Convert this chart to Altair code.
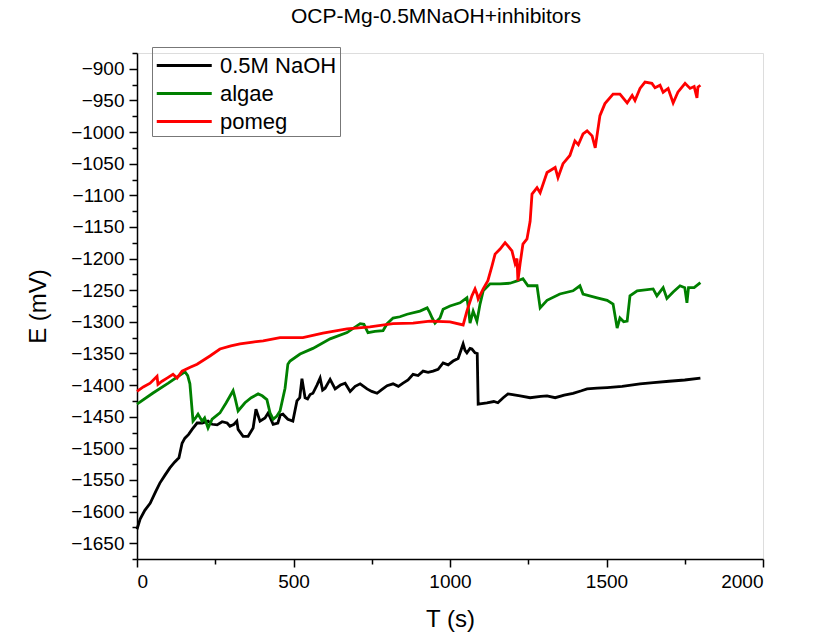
import altair as alt
import pandas as pd

# ---- data ----
naoh_t = [0,10,25,42,60,73,90,105,120,134,144,153,165,176,192,208,227,240,256,272,288,297,310,319,323,339,355,371,380,393,409,419,435,450,458,466,482,498,511,520,527,537,545,553,562,575,585,593,601,617,633,650,665,681,697,713,735,750,767,783,799,818,835,850,866,882,898,914,930,946,962,978,994,1010,1026,1042,1048,1054,1064,1070,1080,1087,1090,1118,1140,1153,1170,1185,1200,1224,1256,1290,1310,1336,1365,1393,1420,1438,1470,1502,1550,1607,1650,1700,1750,1800]
naoh_e = [-1628,-1612,-1598,-1587,-1568,-1555,-1542,-1531,-1522,-1515,-1492,-1484,-1478,-1470,-1460,-1460,-1457,-1462,-1463,-1458,-1460,-1465,-1462,-1457,-1470,-1481,-1481,-1468,-1438,-1457,-1452,-1444,-1462,-1460,-1447,-1446,-1454,-1457,-1425,-1420,-1390,-1420,-1422,-1415,-1413,-1400,-1389,-1408,-1405,-1391,-1406,-1400,-1397,-1410,-1402,-1398,-1406,-1410,-1413,-1407,-1401,-1398,-1402,-1397,-1392,-1383,-1385,-1378,-1380,-1378,-1375,-1365,-1368,-1362,-1358,-1335,-1345,-1349,-1342,-1343,-1349,-1350,-1430,-1428,-1426,-1428,-1420,-1414,-1415,-1417,-1420,-1418,-1417,-1420,-1416,-1413,-1409,-1406,-1405,-1404,-1402,-1398,-1396,-1394,-1392,-1389]

algae_t = [0,50,100,153,162,169,179,187,195,208,216,227,240,265,285,307,313,323,345,365,387,400,415,425,435,447,457,473,482,489,521,562,617,671,713,725,738,760,786,799,818,840,863,904,927,935,943,952,968,978,1000,1032,1054,1058,1064,1074,1086,1096,1106,1128,1160,1192,1217,1233,1249,1278,1288,1310,1351,1393,1415,1425,1470,1502,1521,1534,1543,1555,1566,1575,1598,1649,1661,1681,1693,1713,1735,1750,1757,1762,1780,1800]
algae_e = [-1430,-1413,-1397,-1379,-1385,-1398,-1457,-1452,-1446,-1457,-1452,-1468,-1454,-1444,-1428,-1409,-1420,-1441,-1428,-1420,-1414,-1417,-1423,-1444,-1454,-1449,-1441,-1405,-1367,-1362,-1351,-1342,-1327,-1317,-1303,-1304,-1317,-1315,-1314,-1303,-1294,-1292,-1288,-1283,-1278,-1285,-1294,-1302,-1294,-1280,-1275,-1270,-1262,-1275,-1302,-1283,-1299,-1272,-1251,-1240,-1240,-1239,-1235,-1232,-1243,-1243,-1278,-1266,-1256,-1251,-1243,-1256,-1262,-1266,-1272,-1310,-1294,-1300,-1299,-1259,-1251,-1248,-1259,-1246,-1263,-1253,-1243,-1246,-1270,-1246,-1246,-1238]

pomeg_t = [0,20,42,64,67,80,96,115,128,144,170,192,233,265,300,329,370,403,457,530,594,671,744,818,882,936,1000,1042,1054,1070,1080,1086,1090,1106,1121,1134,1144,1160,1176,1185,1198,1208,1214,1217,1224,1233,1246,1256,1262,1278,1288,1310,1336,1345,1361,1383,1399,1410,1425,1438,1454,1464,1479,1495,1521,1543,1566,1582,1591,1607,1623,1645,1655,1671,1681,1697,1713,1728,1751,1767,1780,1789,1792,1800]
pomeg_e = [-1410,-1403,-1397,-1386,-1399,-1394,-1389,-1383,-1389,-1378,-1372,-1367,-1354,-1343,-1338,-1335,-1332,-1330,-1325,-1325,-1318,-1311,-1308,-1303,-1302,-1299,-1300,-1305,-1283,-1259,-1248,-1256,-1264,-1248,-1235,-1212,-1193,-1185,-1175,-1180,-1188,-1208,-1200,-1235,-1208,-1177,-1169,-1141,-1098,-1088,-1096,-1064,-1056,-1072,-1050,-1037,-1014,-1020,-1003,-998,-1006,-1025,-974,-955,-940,-940,-954,-942,-950,-931,-921,-923,-930,-926,-937,-931,-954,-937,-923,-931,-928,-946,-929,-926]

series_names = ["0.5M NaOH", "algae", "pomeg"]
series_colors = ["#000000", "#008000", "#ff0000"]

x_ticks = list(range(0, 2001, 250))
y_ticks = list(range(-875, -1676, -25))

rows = []
for name, ts, es in zip(series_names, [naoh_t, algae_t, pomeg_t], [naoh_e, algae_e, pomeg_e]):
    for i, (t, e) in enumerate(zip(ts, es)):
        rows.append({"series": name, "T": t, "E": e, "idx": i})
df = pd.DataFrame(rows)

FONT = "Liberation Sans"
xscale = alt.Scale(domain=[0, 2000], nice=False, zero=False)
yscale = alt.Scale(domain=[-1675, -875], nice=False, zero=False)

common_axis = dict(grid=False, domainColor="black", tickColor="black", domainWidth=1.5,
                   tickWidth=1.5, labelFont=FONT, titleFont=FONT, labelColor="black",
                   titleColor="black", titleFontWeight="normal")

lines = alt.Chart(df).mark_line(strokeWidth=2.8).encode(
    x=alt.X("T:Q", scale=xscale,
            axis=alt.Axis(values=x_ticks,
                          tickSize={"condition": {"test": "datum.value % 500 === 0", "value": 8}, "value": 5},
                          labelExpr="datum.value % 500 === 0 ? format(datum.value, 'd') : ''",
                          labelFontSize=19, labelPadding=5,
                          title="T (s)", titleFontSize=24, titlePadding=16, orient="bottom",
                          **common_axis)),
    y=alt.Y("E:Q", scale=yscale,
            axis=alt.Axis(values=y_ticks,
                          tickSize={"condition": {"test": "datum.value % 50 === 0", "value": 8}, "value": 5},
                          labelExpr="datum.value % 50 === 0 ? format(datum.value, 'd') : ''",
                          labelFontSize=19, labelPadding=5,
                          title="E (mV)", titleFontSize=24, titlePadding=20, orient="left",
                          **common_axis)),
    color=alt.Color("series:N",
                    scale=alt.Scale(domain=series_names, range=series_colors),
                    legend=alt.Legend(title=None, orient="none", legendX=15, legendY=-6,
                                      strokeColor="#777777", padding=3,
                                      symbolType="M-1,0H3", symbolSize=756,
                                      symbolStrokeWidth=2.8,
                                      labelFontSize=22, labelFont=FONT, labelColor="black",
                                      labelOffset=34, rowPadding=1)),
    order=alt.Order("idx:Q"),
)

chart = lines.properties(
    width=626, height=506,
    title=alt.TitleParams("OCP-Mg-0.5MNaOH+inhibitors", font=FONT, fontSize=21,
                          fontWeight="normal", color="black", anchor="middle", offset=20, dx=-14),
    autosize=alt.AutoSizeParams(type="none"),
    padding={"left": 137, "top": 53, "right": 55, "bottom": 80},
).configure_view(stroke=None).configure(background="white")

chart.save("out.html", embed_options={"renderer": "svg", "actions": False})
